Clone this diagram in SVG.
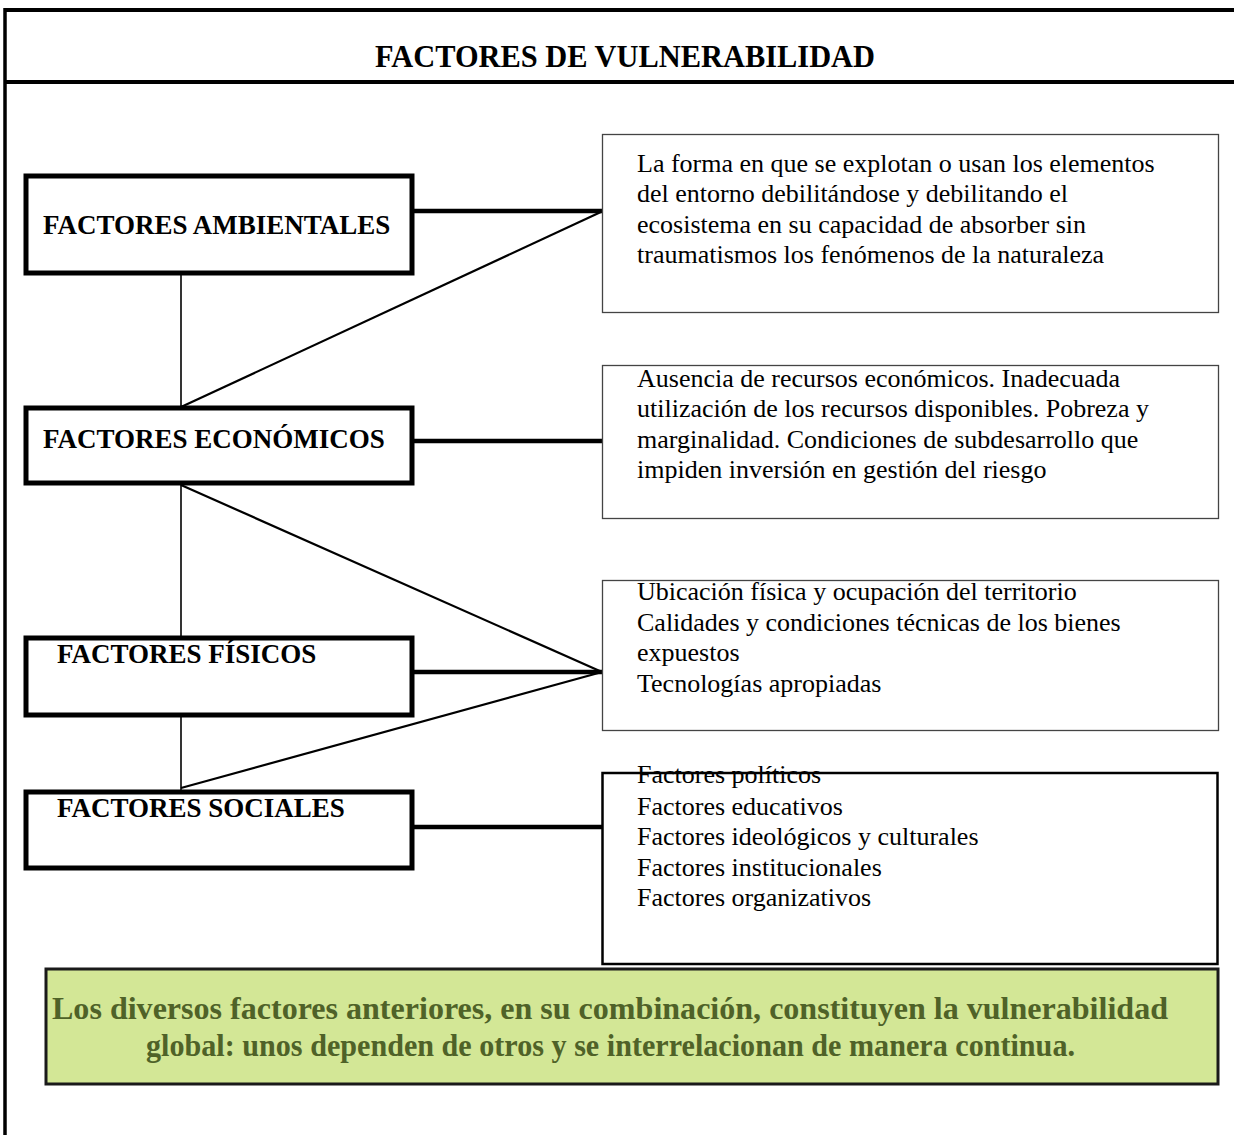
<svg xmlns="http://www.w3.org/2000/svg" width="1234" height="1135" viewBox="0 0 1234 1135">
<style>
.factor{fill:#fff;stroke:#000;stroke-width:5}
.desc{fill:#fff;stroke:#444;stroke-width:1.3}
.desc4{fill:#fff;stroke:#000;stroke-width:2.5}
.ft{font-family:"Liberation Serif","Times New Roman",serif;font-weight:bold;font-size:27px;fill:#000}
.dt{font-family:"Liberation Serif","Times New Roman",serif;font-size:26px;fill:#000}
.gt{font-family:"Liberation Serif","Times New Roman",serif;font-weight:bold;font-size:31px;fill:#4f6228}
.h{stroke:#000;stroke-width:4.5;fill:none}
.d{stroke:#000;stroke-width:2.2;fill:none}
.v{stroke:#000;stroke-width:1.6;fill:none}
</style>
<rect x="0" y="0" width="1234" height="1135" fill="#fff"/>
<g id="frame">
<line x1="5" y1="10" x2="1234" y2="10" stroke="#000" stroke-width="4"/>
<line x1="5" y1="82" x2="1234" y2="82" stroke="#000" stroke-width="4"/>
<line x1="5" y1="8" x2="5" y2="1135" stroke="#000" stroke-width="3.5"/>
<text x="375" y="67" textLength="500" lengthAdjust="spacingAndGlyphs" style="font-family:'Liberation Serif','Times New Roman',serif;font-weight:bold;font-size:31px">FACTORES DE VULNERABILIDAD</text>
</g>
<g id="connectors">
<line class="h" x1="412" y1="211" x2="603" y2="211"/>
<line class="h" x1="412" y1="441" x2="603" y2="441"/>
<line class="h" x1="412" y1="672" x2="603" y2="672"/>
<line class="h" x1="412" y1="827" x2="603" y2="827"/>
<line class="v" x1="181" y1="275" x2="181" y2="406"/>
<line class="v" x1="181" y1="484" x2="181" y2="636"/>
<line class="v" x1="181" y1="716" x2="181" y2="790"/>
<line class="d" x1="181" y1="407" x2="603" y2="211"/>
<line class="d" x1="181" y1="485" x2="602" y2="672"/>
<line class="d" x1="181" y1="788" x2="602" y2="672"/>
</g>
<g id="n-ambientales">
<rect class="factor" x="26" y="176" width="386" height="97"/>
<text class="ft" x="43" y="234">FACTORES AMBIENTALES</text>
</g>
<g id="n-economicos">
<rect class="factor" x="26" y="408" width="386" height="75"/>
<text class="ft" x="43" y="448">FACTORES ECONÓMICOS</text>
</g>
<g id="n-fisicos">
<rect class="factor" x="26" y="638" width="386" height="77"/>
<text class="ft" x="57" y="663">FACTORES FÍSICOS</text>
</g>
<g id="n-sociales">
<rect class="factor" x="26" y="792" width="386" height="76"/>
<text class="ft" x="57" y="817">FACTORES SOCIALES</text>
</g>
<g id="d-ambientales">
<rect class="desc" x="602.5" y="134.5" width="616" height="178"/>
<text class="dt" x="637" y="172">La forma en que se explotan o usan los elementos</text>
<text class="dt" x="637" y="202">del entorno debilitándose y debilitando el</text>
<text class="dt" x="637" y="233">ecosistema en su capacidad de absorber sin</text>
<text class="dt" x="637" y="263">traumatismos los fenómenos de la naturaleza</text>
</g>
<g id="d-economicos">
<rect class="desc" x="602.5" y="365.5" width="616" height="153"/>
<text class="dt" x="637" y="387">Ausencia de recursos económicos. Inadecuada</text>
<text class="dt" x="637" y="417">utilización de los recursos disponibles. Pobreza y</text>
<text class="dt" x="637" y="448">marginalidad. Condiciones de subdesarrollo que</text>
<text class="dt" x="637" y="478">impiden inversión en gestión del riesgo</text>
</g>
<g id="d-fisicos">
<rect class="desc" x="602.5" y="580.5" width="616" height="150"/>
<text class="dt" x="637" y="600">Ubicación física y ocupación del territorio</text>
<text class="dt" x="637" y="631">Calidades y condiciones técnicas de los bienes</text>
<text class="dt" x="637" y="661">expuestos</text>
<text class="dt" x="637" y="692">Tecnologías apropiadas</text>
</g>
<g id="d-sociales">
<rect class="desc4" x="602.5" y="773" width="615" height="191"/>
<text class="dt" x="637" y="783">Factores políticos</text>
<text class="dt" x="637" y="815">Factores educativos</text>
<text class="dt" x="637" y="845">Factores ideológicos y culturales</text>
<text class="dt" x="637" y="876">Factores institucionales</text>
<text class="dt" x="637" y="906">Factores organizativos</text>
</g>
<g id="n-conclusion">
<rect x="46" y="969" width="1172" height="115" fill="#d3e796" stroke="#1a1a1a" stroke-width="3"/>
<text class="gt" x="52" y="1019" textLength="1116" lengthAdjust="spacingAndGlyphs">Los diversos factores anteriores, en su combinación, constituyen la vulnerabilidad</text>
<text class="gt" x="146" y="1056" textLength="929" lengthAdjust="spacingAndGlyphs">global: unos dependen de otros y se interrelacionan de manera continua.</text>
</g>
</svg>
